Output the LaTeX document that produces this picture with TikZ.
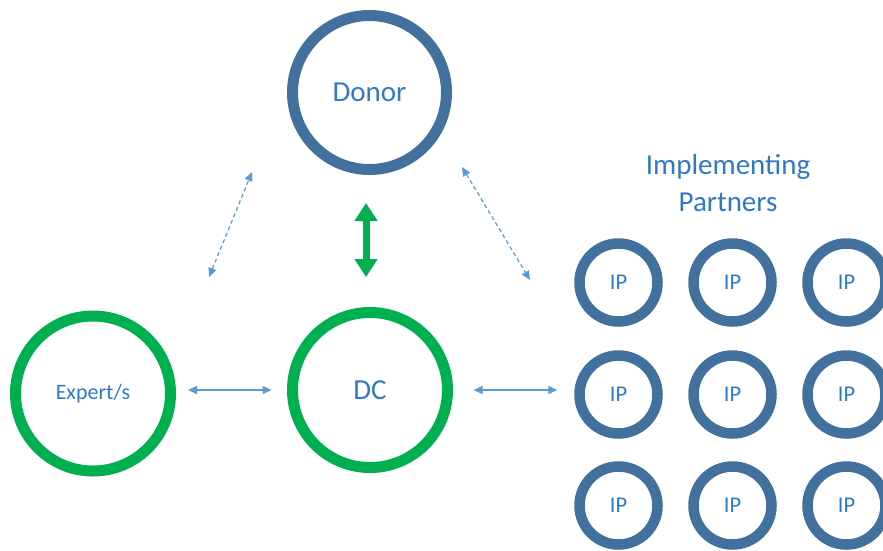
\documentclass[tikz,border=0pt]{standalone}
\usepackage{fontspec}
\setmainfont{Carlito}
\usetikzlibrary{arrows.meta,calc}
\definecolor{ringblue}{HTML}{41719C}
\definecolor{ringgreen}{HTML}{00B050}
\definecolor{labelblue}{HTML}{2E7BC4}
\definecolor{linkblue}{HTML}{5B9BD5}
\begin{document}
\begin{tikzpicture}[x=1pt,y=-1pt,
  ring/.style={circle, inner sep=0pt, line width=11pt, text=labelblue,
    font=\fontsize{29}{34}\selectfont},
  bigblue/.style={ring, draw=ringblue, minimum size=154pt},
  biggreen/.style={ring, draw=ringgreen, minimum size=155pt},
  ipring/.style={ring, draw=ringblue, line width=10.5pt, minimum size=78pt,
    font=\fontsize{22.5}{26}\selectfont},
  link/.style={draw=linkblue, line width=1.4pt, {Triangle[length=9pt,width=8pt]}-{Triangle[length=9pt,width=8pt]}},
  dashedlink/.style={link, line width=1.2pt, dash pattern=on 4pt off 3pt},
  strong/.style={draw=ringgreen, line width=7pt,
    {Triangle[length=18pt,width=22pt]}-{Triangle[length=18pt,width=22pt]}},
  heading/.style={text=labelblue, align=center,
    font=\fontsize{29}{37}\selectfont}
]
\useasboundingbox (0,0) rectangle (883,550);

% main actors
\node[bigblue]  (donor) at (369.5,92.5) {Donor};
\node[biggreen] (dc)    at (370,390)    {DC};
\node[biggreen, font=\fontsize{22}{26}\selectfont] (exp) at (93,393.5) {Expert/s};

% implementing partners grid
\node[heading] (iphead) at (728,183) {Implementing\\Partners};
\foreach \r/\y in {1/282.5, 2/394.5, 3/505.5}
  \foreach \c/\x in {1/618.5, 2/732.5, 3/846.5}
    \node[ipring] (ip\r\c) at (\x,\y) {IP};

% links
\draw[link] ([xshift=12pt,yshift=3.5pt]exp.east) -- ([xshift=-15.5pt]dc.west);
\draw[link] ([xshift=20.5pt]dc.east) -- ([xshift=-17pt]dc.east -| ip21.west);
\draw[strong] ($(donor.south)+(-3.5,28)$) -- ($(dc.north)+(-4,-30)$);

\coordinate (el) at (209,277);
\coordinate (dl) at (252,172);
\coordinate (dr) at (462,167);
\coordinate (ir) at (530,280);
\draw[dashedlink] (el) -- (dl);
\draw[dashedlink] (dr) -- (ir);
\end{tikzpicture}
\end{document}
